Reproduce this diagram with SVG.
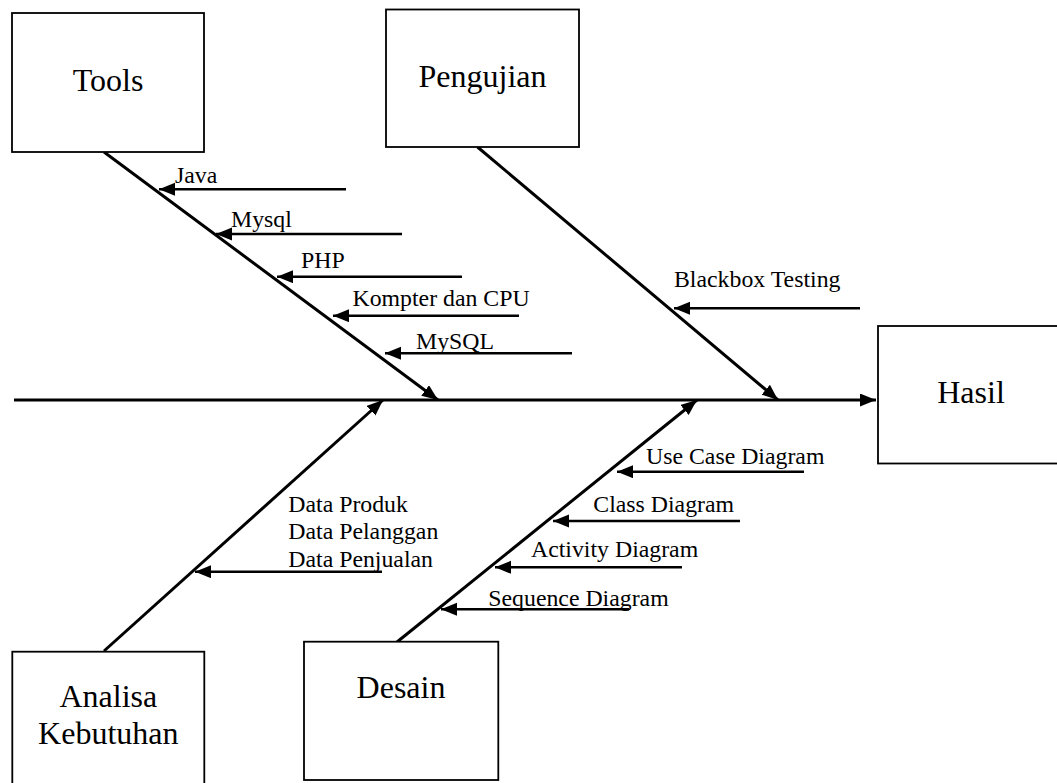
<svg xmlns="http://www.w3.org/2000/svg" width="1057" height="783" viewBox="0 0 1057 783">
<style>
  .box { fill: #ffffff; stroke: #000000; stroke-width: 1.8; }
  .big { font-family: "Liberation Serif", "Times New Roman", serif; font-size: 32px; fill: #000000; text-anchor: middle; }
  .lbl { font-family: "Liberation Serif", "Times New Roman", serif; font-size: 23.8px; fill: #000000; }
  .bone { stroke: #000000; stroke-width: 3; fill: none; marker-end: url(#arr); }
  .sub { stroke: #000000; stroke-width: 2.6; fill: none; marker-end: url(#arr); }
</style>
<defs>
  <marker id="arr" markerUnits="userSpaceOnUse" markerWidth="17" markerHeight="14" refX="16" refY="6.5" orient="auto">
    <path d="M0,0 L16,6.5 L0,13 z" fill="#000000"/>
  </marker>
</defs>
<rect width="1057" height="783" fill="#ffffff"/>

<g id="connectors">
  <line class="bone" x1="14" y1="400" x2="876" y2="400"/>
  <line class="bone" x1="104" y1="152" x2="438" y2="400"/>
  <line class="bone" x1="477.5" y1="147" x2="778" y2="400"/>
  <line class="bone" x1="104" y1="651" x2="383" y2="400"/>
  <line class="bone" x1="397" y1="642" x2="697" y2="400"/>

  <line class="sub" x1="346" y1="189.3" x2="159" y2="189.3"/>
  <line class="sub" x1="402" y1="234" x2="216" y2="234"/>
  <line class="sub" x1="462" y1="276.7" x2="277" y2="276.7"/>
  <line class="sub" x1="519" y1="315.7" x2="333" y2="315.7"/>
  <line class="sub" x1="572" y1="353.3" x2="385" y2="353.3"/>
  <line class="sub" x1="860" y1="308.3" x2="674" y2="308.3"/>
  <line class="sub" x1="382" y1="571.7" x2="195" y2="571.7"/>
  <line class="sub" x1="804" y1="471.7" x2="617" y2="471.7"/>
  <line class="sub" x1="740" y1="521" x2="553" y2="521"/>
  <line class="sub" x1="682" y1="567.3" x2="495" y2="567.3"/>
  <line class="sub" x1="629" y1="609.3" x2="441" y2="609.3"/>

  <text class="lbl" x="175" y="183">Java</text>
  <text class="lbl" x="231" y="227">Mysql</text>
  <text class="lbl" x="301" y="268">PHP</text>
  <text class="lbl" x="352.5" y="306">Kompter dan CPU</text>
  <text class="lbl" x="416" y="349">MySQL</text>
  <text class="lbl" x="674" y="287">Blackbox Testing</text>
  <text class="lbl" x="288.3" y="511.7">Data Produk</text>
  <text class="lbl" x="288.3" y="538.5">Data Pelanggan</text>
  <text class="lbl" x="288.3" y="566.5">Data Penjualan</text>
  <text class="lbl" x="646" y="464">Use Case Diagram</text>
  <text class="lbl" x="593.3" y="511.7">Class Diagram</text>
  <text class="lbl" x="531" y="557.3">Activity Diagram</text>
  <text class="lbl" x="488.3" y="606">Sequence Diagram</text>
</g>

<g id="tools">
  <rect class="box" x="12" y="13" width="192" height="139"/>
  <text class="big" x="108" y="90.7">Tools</text>
</g>
<g id="pengujian">
  <rect class="box" x="386" y="9.5" width="193" height="137.5"/>
  <text class="big" x="482.5" y="87">Pengujian</text>
</g>
<g id="hasil">
  <rect class="box" x="878" y="326" width="186" height="137.5"/>
  <text class="big" x="971" y="402.7">Hasil</text>
</g>
<g id="analisa">
  <rect class="box" x="12.3" y="651.7" width="192" height="140"/>
  <text class="big" x="108.3" y="707.3">Analisa</text>
  <text class="big" x="108.3" y="744.3">Kebutuhan</text>
</g>
<g id="desain">
  <rect class="box" x="304" y="641.7" width="194.3" height="138.3"/>
  <text class="big" x="401" y="698.3">Desain</text>
</g>
</svg>
